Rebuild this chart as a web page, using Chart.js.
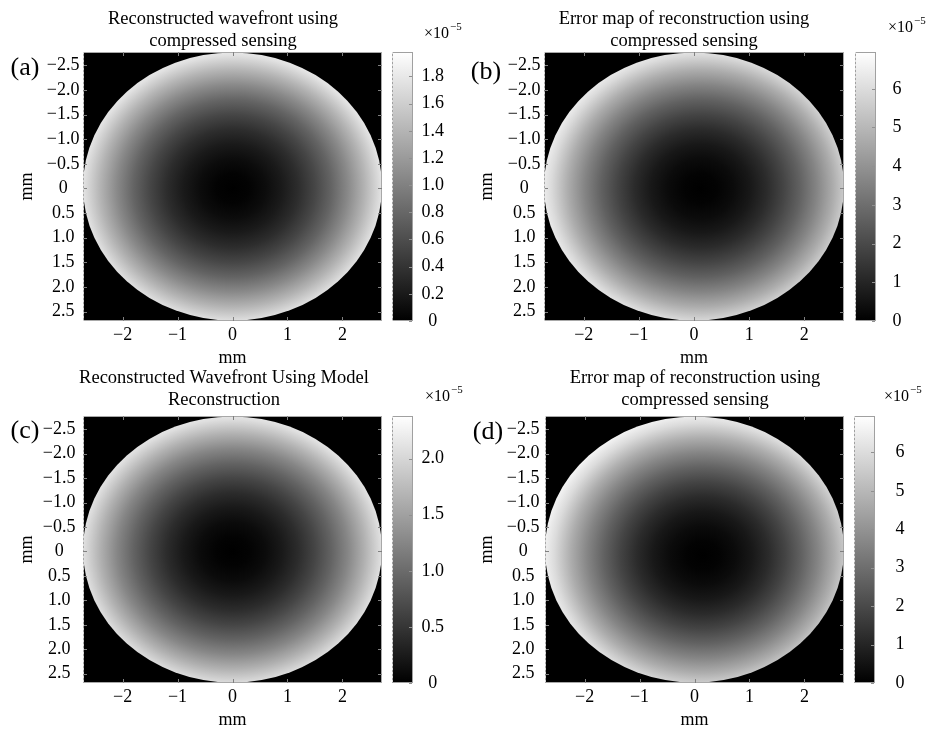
<!DOCTYPE html>
<html><head><meta charset="utf-8">
<script src="https://cdn.jsdelivr.net/npm/chart.js@4.4.0/dist/chart.umd.min.js"></script>
<style>
html,body{margin:0;padding:0;background:#fff;overflow:hidden;width:928px;height:729px;}
.box{position:absolute;}
.lbl{position:absolute;font-family:'Liberation Serif','Times New Roman',serif;color:#000;white-space:nowrap;line-height:1;}
.letter{font-size:26px;transform:translate(-50%,-50%);}
.expo{font-size:16px;line-height:16px;}
.expo span{font-size:11px;position:relative;top:-8px;margin-left:1px;}
</style></head><body>
<div class="box" id="pa"><canvas id="ca"></canvas></div>
<div class="box" id="pb"><canvas id="cbv"></canvas></div>
<div class="box" id="pc"><canvas id="cc"></canvas></div>
<div class="box" id="pd"><canvas id="cd"></canvas></div>
<div class="lbl letter" style="left:25px;top:67px">(a)</div>
<div class="lbl letter" style="left:486px;top:71px">(b)</div>
<div class="lbl letter" style="left:25px;top:430px">(c)</div>
<div class="lbl letter" style="left:488px;top:431px">(d)</div>
<div class="lbl expo" style="left:424px;top:25px">×10<span>−5</span></div>
<div class="lbl expo" style="left:888px;top:19px">×10<span>−5</span></div>
<div class="lbl expo" style="left:425px;top:388px">×10<span>−5</span></div>
<div class="lbl expo" style="left:884px;top:388px">×10<span>−5</span></div>
<script>
// ---------- data ----------
const xTicks = [-2, -1, 0, 1, 2];
const xTickLabels = ['−2', '−1', '0', '1', '2'];
const yTicks = [-2.5, -2, -1.5, -1, -0.5, 0, 0.5, 1, 1.5, 2, 2.5];
const yTickLabels = ['−2.5', '−2.0', '−1.5', '−1.0', '−0.5', '0', '0.5', '1.0', '1.5', '2.0', '2.5'];
const xRange = [-2.72, 2.72];
const yRange = [-2.77, 2.69];

const titleA = ['Reconstructed wavefront using', 'compressed sensing'];
const titleB = ['Error map of reconstruction using', 'compressed sensing'];
const titleC = ['Reconstructed Wavefront Using Model', 'Reconstruction'];
const titleD = ['Error map of reconstruction using', 'compressed sensing'];

const apertureCenter = [0, -0.04];
const apertureRadius = 2.72;

// radial profile sample radii (mm from the darkest point)
const profileRadii = [0, 0.3, 0.6, 0.9, 1.2, 1.5, 1.8, 2.1, 2.4, 2.7, 3.0];
// values (x1e-5) read along a radius
const profileA = [0, 0.02, 0.09, 0.20, 0.35, 0.54, 0.78, 1.06, 1.39, 1.75, 1.98];
const profileB = [0, 0.07, 0.29, 0.66, 1.18, 1.84, 2.65, 3.60, 4.70, 5.95, 6.95];
const profileC = [0, 0.03, 0.10, 0.23, 0.41, 0.64, 0.92, 1.25, 1.64, 2.07, 2.38];
const profileD = [0, 0.07, 0.29, 0.66, 1.18, 1.85, 2.66, 3.62, 4.72, 5.97, 6.95];
// location of the darkest point (mm)
const minPointA = [0, 0];
const minPointB = [0.12, 0];
const minPointC = [0, 0];
const minPointD = [0.15, 0.08];

// colour bars
const cbRangeA = [0, 1.98];
const cbRangeB = [0, 6.95];
const cbRangeC = [0, 2.38];
const cbRangeD = [0, 6.95];
const cbTicksA = [0, 0.2, 0.4, 0.6, 0.8, 1.0, 1.2, 1.4, 1.6, 1.8];
const cbLabelsA = ['0', '0.2', '0.4', '0.6', '0.8', '1.0', '1.2', '1.4', '1.6', '1.8'];
const cbTicksB = [0, 1, 2, 3, 4, 5, 6];
const cbLabelsB = ['0', '1', '2', '3', '4', '5', '6'];
const cbTicksC = [0, 0.5, 1.0, 1.5, 2.0];
const cbLabelsC = ['0', '0.5', '1.0', '1.5', '2.0'];
const cbTicksD = [0, 1, 2, 3, 4, 5, 6];
const cbLabelsD = ['0', '1', '2', '3', '4', '5', '6'];

// ---------- rendering ----------
const FONT = "'Liberation Serif','Times New Roman',serif";

function grayFor(scale, v) {
  const t = Math.max(0, Math.min(1, (v - scale.min) / (scale.max - scale.min)));
  const c = Math.round(255 * t);
  return 'rgb(' + c + ',' + c + ',' + c + ')';
}

const heatPlugin = {
  id: 'heat',
  beforeDatasetsDraw(chart, args, o) {
    const {ctx, chartArea: a, scales: {x, y, cb}} = chart;
    ctx.save();
    ctx.beginPath();
    ctx.rect(a.left, a.top, a.right - a.left, a.bottom - a.top);
    ctx.clip();
    ctx.fillStyle = '#000';
    ctx.fillRect(a.left, a.top, a.right - a.left, a.bottom - a.top);
    const cx = x.getPixelForValue(o.aperture[0]);
    const cy = y.getPixelForValue(o.aperture[1]);
    const rx = Math.abs(x.getPixelForValue(o.aperture[0] + o.radius) - cx);
    const ry = Math.abs(y.getPixelForValue(o.aperture[1] + o.radius) - cy);
    ctx.translate(cx, cy);
    ctx.scale(1, ry / rx);
    const gx = x.getPixelForValue(o.center[0]) - cx;
    const gy = (y.getPixelForValue(o.center[1]) - cy) * rx / ry;
    const rLast = o.radii[o.radii.length - 1];
    const rPx = Math.abs(x.getPixelForValue(o.center[0] + rLast) - x.getPixelForValue(o.center[0]));
    const g = ctx.createRadialGradient(gx, gy, 0, gx, gy, rPx);
    o.radii.forEach((r, i) => g.addColorStop(r / rLast, grayFor(cb, o.values[i])));
    ctx.beginPath();
    ctx.arc(0, 0, rx, 0, Math.PI * 2);
    ctx.fillStyle = g;
    ctx.fill();
    ctx.restore();
  },
  afterDraw(chart, args, o) {
    const {ctx, chartArea: a, scales: {x, y, cb}} = chart;
    ctx.save();
    // plot frame
    ctx.strokeStyle = '#a8a8a8';
    ctx.lineWidth = 1;
    ctx.strokeRect(a.left + 0.5, a.top + 0.5, a.right - a.left - 1, a.bottom - a.top - 1);
    // inward tick marks
    ctx.strokeStyle = '#808080';
    ctx.beginPath();
    x.ticks.forEach(t => {
      const px = Math.round(x.getPixelForValue(t.value)) + 0.5;
      ctx.moveTo(px, a.top); ctx.lineTo(px, a.top + 4);
      ctx.moveTo(px, a.bottom); ctx.lineTo(px, a.bottom - 4);
    });
    y.ticks.forEach(t => {
      const py = Math.round(y.getPixelForValue(t.value)) + 0.5;
      ctx.moveTo(a.left, py); ctx.lineTo(a.left + 4, py);
      ctx.moveTo(a.right, py); ctx.lineTo(a.right - 4, py);
    });
    ctx.stroke();
    // left edge dotted highlight
    ctx.strokeStyle = '#d8d8d8';
    ctx.setLineDash([2, 2]);
    ctx.beginPath();
    ctx.moveTo(a.left + 0.5, a.top); ctx.lineTo(a.left + 0.5, a.bottom);
    ctx.stroke();
    ctx.setLineDash([]);
    // colour bar
    const x0 = Math.round(a.right + o.cbGap);
    const w = o.cbWidth;
    const top = cb.getPixelForValue(cb.max);
    const bot = cb.getPixelForValue(cb.min);
    const lg = ctx.createLinearGradient(0, bot, 0, top);
    lg.addColorStop(0, grayFor(cb, cb.min));
    lg.addColorStop(1, grayFor(cb, cb.max));
    ctx.fillStyle = lg;
    ctx.fillRect(x0, top, w, bot - top);
    ctx.strokeStyle = '#a0a0a0';
    ctx.strokeRect(x0 + 0.5, top + 0.5, w - 1, bot - top - 1);
    ctx.strokeStyle = '#909090';
    ctx.beginPath();
    cb.ticks.forEach(t => {
      const py = Math.round(cb.getPixelForValue(t.value)) + 0.5;
      ctx.moveTo(x0 + w - 1, py); ctx.lineTo(x0 + w - 4, py);
    });
    ctx.stroke();
    ctx.strokeStyle = '#dcdcdc';
    ctx.setLineDash([2, 2]);
    ctx.beginPath();
    ctx.moveTo(x0 + 0.5, top); ctx.lineTo(x0 + 0.5, bot);
    ctx.stroke();
    ctx.restore();
  }
};

function makePanel(p) {
  const box = document.getElementById(p.box);
  box.style.left = p.left + 'px';
  box.style.top = p.top + 'px';
  box.style.width = p.width + 'px';
  box.style.height = p.height + 'px';
  const tickFont = {family: FONT, size: 18};
  return new Chart(document.getElementById(p.canvas), {
    type: 'scatter',
    data: {datasets: [{data: [], pointRadius: 0}]},
    plugins: [heatPlugin],
    options: {
      responsive: true,
      maintainAspectRatio: false,
      animation: false,
      events: [],
      layout: {padding: 0},
      plugins: {
        legend: {display: false},
        tooltip: {enabled: false},
        title: {
          display: true,
          text: p.title,
          color: '#000',
          font: {family: FONT, size: 18.5, weight: 'normal', lineHeight: '22px'},
          padding: p.titlePad
        },
        heat: {
          aperture: apertureCenter,
          radius: apertureRadius,
          center: p.minPoint,
          radii: profileRadii,
          values: p.profile,
          cbGap: p.cbGap,
          cbWidth: 21
        }
      },
      scales: {
        x: {
          type: 'linear', position: 'bottom',
          min: xRange[0], max: xRange[1],
          grid: {display: false, drawTicks: false},
          border: {display: false},
          afterBuildTicks: s => { s.ticks = xTicks.map(v => ({value: v})); },
          afterFit: s => { s.height = 48; },
          ticks: {autoSkip: false, maxRotation: 0, color: '#000', font: tickFont, padding: 3,
                  callback: (v, i) => xTickLabels[i]},
          title: {display: true, text: 'mm', color: '#000', font: tickFont, padding: {top: 0, bottom: 0}}
        },
        y: {
          type: 'linear', position: 'left', reverse: true,
          min: yRange[0], max: yRange[1],
          grid: {display: false, drawTicks: false},
          border: {display: false},
          afterBuildTicks: s => { s.ticks = yTicks.map(v => ({value: v})); },
          afterFit: s => { s.width = p.yWidth; },
          ticks: {autoSkip: false, crossAlign: 'center', color: '#000', font: tickFont, padding: p.yTickPad,
                  callback: (v, i) => yTickLabels[i]},
          title: {display: true, text: 'mm', color: '#000', font: tickFont, padding: {top: p.yTitlePad, bottom: 0}}
        },
        // reserves the room where the colour bar is painted
        barSpace: {
          type: 'linear', position: 'right', weight: 0, min: 0, max: 1,
          grid: {display: false, drawTicks: false},
          border: {display: false},
          ticks: {display: false},
          afterFit: s => { s.width = p.cbGap + 21; }
        },
        cb: {
          type: 'linear', position: 'right', weight: 1,
          min: p.cbRange[0], max: p.cbRange[1],
          grid: {display: false, drawTicks: false},
          border: {display: false},
          afterBuildTicks: s => { s.ticks = p.cbTicks.map(v => ({value: v})); },
          afterFit: s => { s.width = p.cbAxisWidth; },
          ticks: {autoSkip: false, crossAlign: 'center', color: '#000', font: tickFont, padding: p.cbPad,
                  callback: (v, i) => p.cbLabels[i]}
        }
      }
    }
  });
}

makePanel({box: 'pa', canvas: 'ca', left: 0, top: 0, width: 446, height: 369,
  title: titleA, titlePad: {top: 8, bottom: 0}, yWidth: 83, yTickPad: 3.5, yTitlePad: 16,
  cbAxisWidth: 33, cbPad: 8.5, cbGap: 10, cbRange: cbRangeA, cbTicks: cbTicksA, cbLabels: cbLabelsA,
  profile: profileA, minPoint: minPointA});
makePanel({box: 'pb', canvas: 'cbv', left: 461, top: 0, width: 446, height: 369,
  title: titleB, titlePad: {top: 8, bottom: 0}, yWidth: 83, yTickPad: 3.5, yTitlePad: 15.5,
  cbAxisWidth: 31, cbPad: 16.5, cbGap: 11, cbRange: cbRangeB, cbTicks: cbTicksB, cbLabels: cbLabelsB,
  profile: profileB, minPoint: minPointB});
makePanel({box: 'pc', canvas: 'cc', left: 1, top: 364, width: 446, height: 367,
  title: titleC, titlePad: {top: 3, bottom: 5}, yWidth: 82, yTickPad: 7.5, yTitlePad: 15,
  cbAxisWidth: 34, cbPad: 8.5, cbGap: 10, cbRange: cbRangeC, cbTicks: cbTicksC, cbLabels: cbLabelsC,
  profile: profileC, minPoint: minPointC});
makePanel({box: 'pd', canvas: 'cd', left: 472, top: 364, width: 446, height: 367,
  title: titleD, titlePad: {top: 3, bottom: 5}, yWidth: 73, yTickPad: 5.5, yTitlePad: 4,
  cbAxisWidth: 43, cbPad: 20.5, cbGap: 10, cbRange: cbRangeD, cbTicks: cbTicksD, cbLabels: cbLabelsD,
  profile: profileD, minPoint: minPointD});
</script>
</body></html>
